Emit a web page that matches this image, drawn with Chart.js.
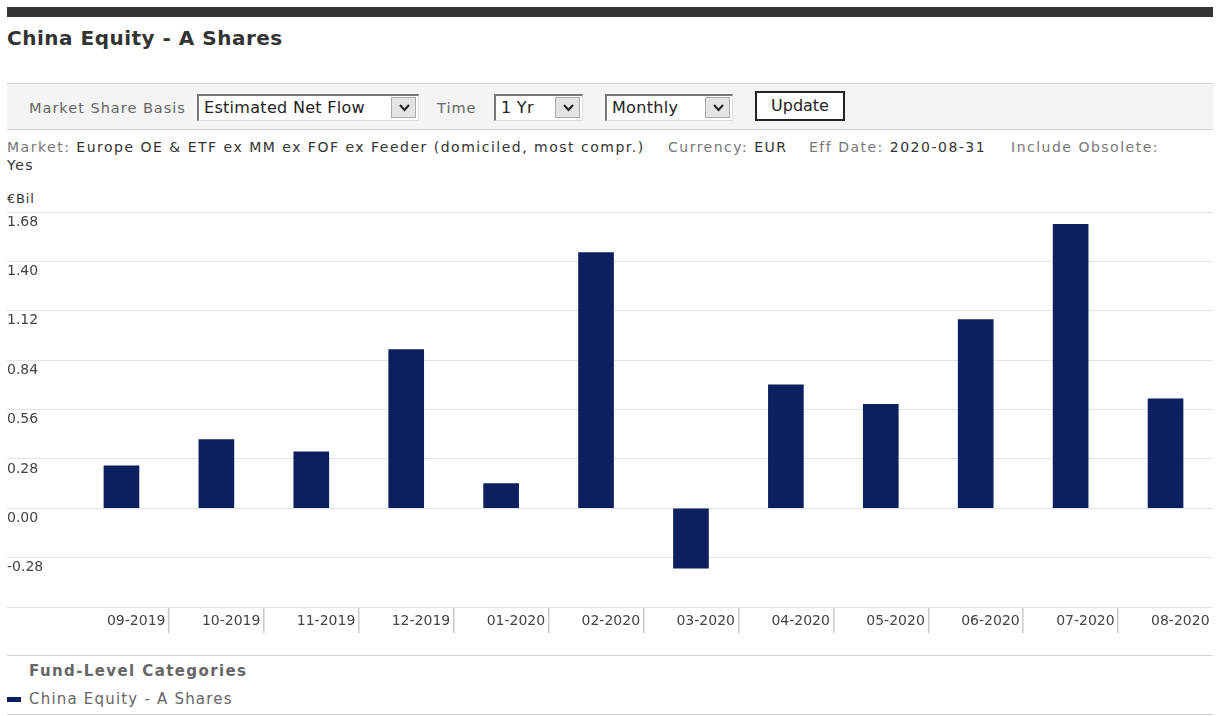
<!DOCTYPE html>
<html>
<head>
<meta charset="utf-8">
<script src="https://cdn.jsdelivr.net/npm/chart.js@4.4.1/dist/chart.umd.min.js"></script>
<style>
  body { margin: 0; background: #fff; font-family: "DejaVu Sans", Verdana, sans-serif; width: 1220px; height: 716px; overflow: hidden; position: relative; }
  .abs { position: absolute; white-space: nowrap; }
  .topbar { left: 7px; top: 7px; width: 1206px; height: 10px; background: #333; }
  .title { left: 7px; top: 26px; font-size: 20px; font-weight: bold; color: #333; letter-spacing: 0.5px; }
  .ctrl { left: 7px; top: 83px; width: 1206px; height: 45px; background: #f4f4f4; border-top: 1px solid #d4d4d4; border-bottom: 1px solid #d4d4d4; }
  .lbl { color: #666; font-size: 14.5px; letter-spacing: 1px; }
  .sel { height: 24px; background: #fff; border-top: 2px solid #777; border-left: 2px solid #777; border-right: 1px solid #ddd; border-bottom: 1px solid #ddd; font-size: 16px; letter-spacing: 0.3px; color: #222; line-height: 24px; padding-left: 5px; box-sizing: content-box; }
  .arr { position: absolute; right: 2px; top: 1px; width: 25px; height: 21px; background: #e4e4e4; border: 1px solid #aaa; box-sizing: border-box; }
  .arr svg { position: absolute; left: 7px; top: 6px; }
  .btn { left: 755px; top: 91px; width: 86px; height: 26px; border: 2px solid #222; background: #fff; font-size: 16px; color: #222; text-align: center; line-height: 26px; }
  .info { font-size: 14px; color: #333; top: 139px; letter-spacing: 1.5px; }
  .info .g { color: #777; }
  .hr { left: 7px; width: 1206px; height: 1px; background: #cfcfcf; }
  #wrap { position: absolute; left: 0; top: 190px; width: 1220px; height: 460px; }
</style>
</head>
<body>
<div class="abs topbar"></div>
<div class="abs title">China Equity - A Shares</div>
<div class="abs ctrl"></div>
<div class="abs lbl" style="left:29px; top:100px;">Market Share Basis</div>
<div class="abs sel" style="left:197px; top:94px; width:214px;">Estimated Net Flow<div class="arr"><svg width="11" height="8"><polyline points="1,1 5.5,6 10,1" fill="none" stroke="#222" stroke-width="2"/></svg></div></div>
<div class="abs lbl" style="left:437px; top:100px;">Time</div>
<div class="abs sel" style="left:494px; top:94px; width:81px;">1 Yr<div class="arr"><svg width="11" height="8"><polyline points="1,1 5.5,6 10,1" fill="none" stroke="#222" stroke-width="2"/></svg></div></div>
<div class="abs sel" style="left:605px; top:94px; width:120px;">Monthly<div class="arr"><svg width="11" height="8"><polyline points="1,1 5.5,6 10,1" fill="none" stroke="#222" stroke-width="2"/></svg></div></div>
<div class="abs btn">Update</div>

<div class="abs info" style="left:7px;"><span class="g">Market:</span> Europe OE &amp; ETF ex MM ex FOF ex Feeder (domiciled, most compr.)</div>
<div class="abs info" style="left:668px;"><span class="g">Currency:</span> EUR</div>
<div class="abs info" style="left:809px;"><span class="g">Eff Date:</span> 2020-08-31</div>
<div class="abs info" style="left:1011px;"><span class="g">Include Obsolete:</span></div>
<div class="abs info" style="left:7px; top:157px;">Yes</div>

<div class="abs" style="left:7px; top:191px; font-size:13px; color:#333; letter-spacing:0.8px;">€Bil</div>

<div id="wrap"><canvas id="chart"></canvas></div>

<div class="abs hr" style="top:655px;"></div>
<div class="abs" style="left:29px; top:662px; font-size:15px; font-weight:bold; color:#666; letter-spacing:1.4px;">Fund-Level Categories</div>
<div class="abs" style="left:7px; top:697px; width:14px; height:5px; background:#0c1f5e;"></div>
<div class="abs" style="left:29px; top:690px; font-size:15px; color:#666; letter-spacing:1.2px;">China Equity - A Shares</div>
<div class="abs hr" style="top:714px;"></div>

<script>
const months = ["09-2019", "10-2019", "11-2019", "12-2019", "01-2020", "02-2020",
                "03-2020", "04-2020", "05-2020", "06-2020", "07-2020", "08-2020"];
const netFlow = [0.24, 0.39, 0.32, 0.90, 0.14, 1.45, -0.34, 0.70, 0.59, 1.07, 1.61, 0.62];
const yTicks = [-0.56, -0.28, 0.00, 0.28, 0.56, 0.84, 1.12, 1.40, 1.68];

const ctx = document.getElementById("chart").getContext("2d");
const chart = new Chart(ctx, {
  type: "bar",
  data: {
    labels: months,
    datasets: [
      {
        label: "China Equity - A Shares",
        data: netFlow,
        backgroundColor: "#0c1f5e",
        barThickness: 35,
      },
    ],
  },
  options: {
    responsive: true,
    maintainAspectRatio: false,
    animation: false,
    layout: {
      padding: { left: 7, right: 7, top: 22, bottom: 3 }
    },
    plugins: {
      legend: { display: false },
      tooltip: { enabled: false }
    },
    scales: {
      x: {
        border: { display: false },
        grid: {
          offset: true,
          drawOnChartArea: false,
          tickLength: 26,
          lineWidth: 1.5,
          color: (c) => (c.index === undefined || c.index === 0) ? "rgba(0,0,0,0)" : "#cccccc"
        },
        ticks: {
          align: "end",
          labelOffset: 44,
          padding: -20,
          maxRotation: 0,
          autoSkip: false,
          color: "#444",
          font: { family: "DejaVu Sans", size: 14 }
        },
        afterFit: (scale) => { scale.height = 40; }
      },
      y: {
        min: yTicks[0],
        max: yTicks[yTicks.length - 1],
        border: { display: false },
        grid: {
          color: "#e3e3e3",
          tickLength: 67
        },
        afterBuildTicks: (scale) => { scale.ticks = yTicks.map(v => ({ value: v })); },
        afterFit: (scale) => { scale.width = 67; },
        ticks: {
          crossAlign: "far",
          labelOffset: 10,
          color: "#444",
          font: { family: "DejaVu Sans", size: 14 },
          callback: (value, index) => index === 0 ? "" : value.toFixed(2)
        }
      }
    }
  },
});
</script>
</body>
</html>
